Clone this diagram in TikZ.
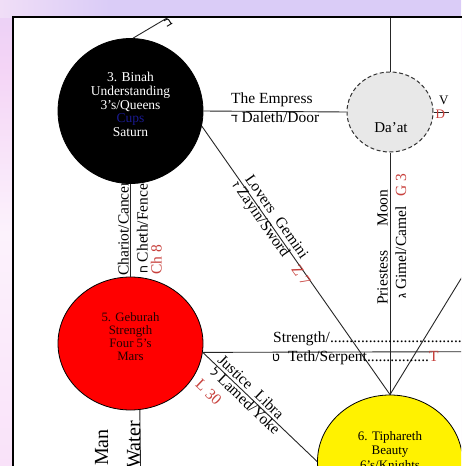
\documentclass[tikz,border=0pt]{standalone}
\usepackage{fontspec}
\setmainfont{Liberation Serif}
\newfontfamily\heb{Liberation Sans}
\usetikzlibrary{shapes.geometric}
\definecolor{lblred}{HTML}{C8403C}
\definecolor{cupblue}{HTML}{1A1A90}
\definecolor{daatfill}{HTML}{E8E8E8}
\definecolor{bgA}{HTML}{F6C8F6}
\definecolor{bgB}{HTML}{F9E2F9}
\definecolor{bgC}{HTML}{FCF2FC}
\definecolor{bgD}{HTML}{F4D4F6}
\definecolor{bgE}{HTML}{DACCF7}
\definecolor{bgF}{HTML}{E8D8F6}
\definecolor{bgG}{HTML}{F0DEF7}
\pgfdeclareverticalshading{leftbg}{100bp}{color(0bp)=(bgA); color(25bp)=(bgB); color(50bp)=(bgC); color(68bp)=(bgD); color(85bp)=(bgE); color(100bp)=(bgF)}
\newcommand\hb[1]{{\heb\fontsize{12}{12}\selectfont #1}}
\begin{document}
\begin{tikzpicture}[x=1pt,y=-1pt,
  sef/.style={ellipse, inner sep=0pt, draw=black, line width=0.8pt},
  pathln/.style={draw=black!85, line width=0.9pt},
  lbl/.style={inner sep=0pt, font=\fontsize{15.5}{17}\selectfont},
  biglbl/.style={inner sep=0pt, font=\fontsize{20}{22}\selectfont},
  redlbl/.style={lbl, text=lblred},
  seftxt/.style={inner sep=0pt, align=center}]
\useasboundingbox (0,0) rectangle (461,466);
\shade[shading=leftbg] (0,0) rectangle (461,466);
\shade[left color=bgG, right color=bgE] (0,0) rectangle (110,17);
\fill[bgE] (110,0) rectangle (461,17);
\begin{scope}
\clip (13,17) rectangle (461,466);
\fill[white] (13,17) rectangle (461,466);
% sefirot
\node[sef, fill=black, minimum width=145pt, minimum height=145pt] (binah) at (130.5,111) {};
\node[sef, fill=red, minimum width=145pt, minimum height=133pt] (geburah) at (130.5,343.5) {};
\node[sef, fill=yellow, minimum width=145pt, minimum height=133pt] (tiph) at (390,461.5) {};
\node[ellipse, draw=black!80, line width=1pt, dash pattern=on 4pt off 2.5pt, fill=daatfill, minimum width=86pt, minimum height=80pt, inner sep=0pt] (daat) at (390,112) {};
% texts in sefirot
\node[seftxt, text=white, font=\fontsize{13.5}{13.8}\selectfont] (binahtxt) at (130.5,104.5) {3. Binah\\Understanding\\3’s/Queens\\\textcolor{cupblue}{Cups}\\Saturn};
\node[seftxt, text=black!85!red, font=\fontsize{12.8}{13}\selectfont] (geburahtxt) at (130.5,336.5) {5. Geburah\\Strength\\Four 5’s\\Mars};
\node[seftxt, anchor=north, font=\fontsize{13}{14.5}\selectfont] (tiphtxt) at (390,431) {6. Tiphareth\\Beauty\\6’s/Knights};
\node[inner sep=0pt, font=\fontsize{15}{16}\selectfont] (daattxt) at (391,127.5) {Da’at};
% free ends
\coordinate (kether) at (175,13.3);
\coordinate (chokmah) at (470,264);
\coordinate (daattop) at (390,5);
\coordinate (daatright) at (449,112);
\coordinate (chesed) at (470,351.7);
\coordinate (hod) at (140.6,475);
% paths
\draw[pathln] (binah.88) -- (kether);
\draw[pathln] (binah.east) -- (daat.west);
\draw[pathln] (binah.-12) -- (tiph.north);
\draw[pathln] (geburah.north) -- (binah.south);
\draw[pathln] (daat.north) -- (daattop);
\draw[pathln] (daat.east) -- (daatright);
\draw[pathln] (tiph.north) -- (daat.south);
\draw[pathln] (tiph.north) -- (chokmah);
\draw[pathln] (geburah.-7) -- (chesed);
\draw[pathln] (geburah.-7) -- (tiph.west);
\draw[pathln] (geburah.-82) -- (hod);
% labels: Beth (clipped)
\node[lbl, rotate=31, anchor=center] (bethlbl) at (168,22.5) {\hb{ב}};
% Empress
\node[lbl, anchor=base west] (empress) at (231,103) {The Empress};
\node[lbl, anchor=base west] (daleth) at (231,122) {\hb{ד} Daleth/Door};
% V / D
\node[inner sep=0pt, anchor=base west, font=\fontsize{13}{13}\selectfont] (vlbl) at (439,104) {V};
\node[inner sep=0pt, anchor=base west, text=lblred, font=\fontsize{13}{13}\selectfont] (dlbl) at (435.5,118.5) {D};
% Chariot
\node[lbl, rotate=90, anchor=base west] (chariot) at (128.5,276) {Chariot/Cancer};
\node[lbl, rotate=90, anchor=base west] (cheth) at (147.5,274) {\hb{ח} Cheth/Fence};
\node[redlbl, rotate=90, anchor=base west] (ch8) at (161.5,275) {Ch 8};
% Lovers
\node[lbl, rotate=-54.96, anchor=base west] (lovers) at (244.5,178.9) {Lovers\hspace{9pt}Gemini};
\node[lbl, rotate=-54.96, anchor=base west] (zayin) at (231.8,185.4) {\hb{ז} Zayin/Sword\hspace{14pt}\textcolor{lblred}{Z 7}};
% Priestess
\node[lbl, rotate=90, anchor=base west] (priestess) at (387.5,305) {Priestess\hspace{24pt}Moon};
\node[lbl, rotate=90, anchor=base west] (gimel) at (406,299) {\hb{ג} Gimel/Camel\hspace{10pt}\textcolor{lblred}{G 3}};
% Strength
\node[lbl, anchor=base west] (strength) at (273,342) {Strength/........................................};
\node[lbl, anchor=base west] (teth) at (272,361) {\hb{ט}\hspace{8pt}Teth/Serpent................\textcolor{lblred}{T}};
% Justice
\node[lbl, rotate=-43.6, anchor=base west] (justice) at (216.7,361.2) {Justice\hspace{9pt}Libra};
\node[lbl, rotate=-43.6, anchor=base west] (lamed) at (209.2,373.5) {\hb{ל} Lamed/Yoke};
\node[redlbl, rotate=-43.6, anchor=base west] (l30) at (194.6,385.8) {L 30};
% Hanged Man
\node[biglbl, rotate=90, anchor=base east] (hanged) at (108,429) {Hanged Man};
\node[biglbl, rotate=90, anchor=base east] (mem) at (140,421) {\hb{מ} Mem/Water};
\end{scope}
\draw[line width=1.8pt] (13,470) -- (13,17) -- (470,17);
\end{tikzpicture}
\end{document}
